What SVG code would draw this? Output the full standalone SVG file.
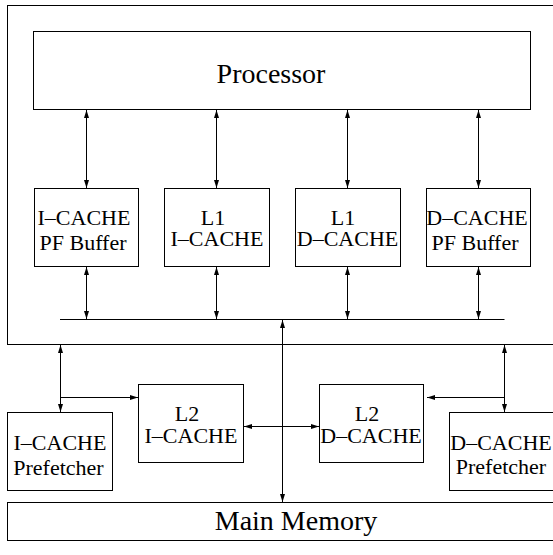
<svg xmlns="http://www.w3.org/2000/svg" width="553" height="555" viewBox="0 0 553 555">
  <style>
    .box { fill: #fff; stroke: #000; stroke-width: 1; }
    .frame { fill: none; stroke: #000; stroke-width: 1; }
    .wire { fill: none; stroke: #000; stroke-width: 1; }
    .lbl { font-family: "Liberation Serif", "Times New Roman", serif; font-size: 22px; fill: #000; text-anchor: middle; }
    .big { font-family: "Liberation Serif", "Times New Roman", serif; font-size: 28px; fill: #000; text-anchor: middle; }
  </style>
  <defs>
    <marker id="head" viewBox="0 0 8 5" refX="8" refY="2.5" markerWidth="8" markerHeight="5" markerUnits="userSpaceOnUse" orient="auto-start-reverse">
      <path d="M0,0 L8,2.5 L0,5 z" fill="#000"/>
    </marker>
  </defs>

  <rect width="553" height="555" fill="#fff"/>

  <!-- chip boundary (open to the right) -->
  <g id="chip">
    <rect class="frame" x="7.5" y="5.5" width="560" height="339"/>
  </g>

  <g id="processor">
    <rect class="box" x="33.5" y="31.5" width="497" height="78"/>
    <text class="big" x="271" y="83">Processor</text>
  </g>

  <g id="icache-pf-buffer">
    <rect class="box" x="34.5" y="188.5" width="104" height="78"/>
    <text class="lbl" x="84" y="224.5">I–CACHE</text>
    <text class="lbl" x="83" y="250">PF Buffer</text>
  </g>

  <g id="l1-icache">
    <rect class="box" x="164.5" y="188.5" width="105" height="78"/>
    <text class="lbl" x="213" y="225">L1</text>
    <text class="lbl" x="217" y="246">I–CACHE</text>
  </g>

  <g id="l1-dcache">
    <rect class="box" x="295.5" y="188.5" width="105" height="78"/>
    <text class="lbl" x="343" y="225">L1</text>
    <text class="lbl" x="347.5" y="246">D–CACHE</text>
  </g>

  <g id="dcache-pf-buffer">
    <rect class="box" x="426.5" y="188.5" width="104" height="78"/>
    <text class="lbl" x="477" y="224.5">D–CACHE</text>
    <text class="lbl" x="475" y="250">PF Buffer</text>
  </g>

  <g id="l2-icache">
    <rect class="box" x="138.5" y="384.5" width="105" height="78"/>
    <text class="lbl" x="187" y="421">L2</text>
    <text class="lbl" x="191" y="443">I–CACHE</text>
  </g>

  <g id="l2-dcache">
    <rect class="box" x="319.5" y="384.5" width="104" height="78"/>
    <text class="lbl" x="367" y="421">L2</text>
    <text class="lbl" x="371" y="442.5">D–CACHE</text>
  </g>

  <g id="icache-prefetcher">
    <rect class="box" x="7.5" y="412.5" width="105" height="78"/>
    <text class="lbl" x="60" y="450">I–CACHE</text>
    <text class="lbl" x="58.5" y="474.5">Prefetcher</text>
  </g>

  <g id="dcache-prefetcher">
    <rect class="box" x="449.5" y="412.5" width="110" height="78"/>
    <text class="lbl" x="501" y="450">D–CACHE</text>
    <text class="lbl" x="501" y="474">Prefetcher</text>
  </g>

  <g id="main-memory">
    <rect class="box" x="7.5" y="502.5" width="560" height="38"/>
    <text class="big" x="296" y="530">Main Memory</text>
  </g>

  <g id="connectors">
    <!-- processor to first-level buffers and caches -->
    <line class="wire" x1="86.5" y1="110" x2="86.5" y2="188" marker-start="url(#head)" marker-end="url(#head)"/>
    <line class="wire" x1="216.5" y1="110" x2="216.5" y2="188" marker-start="url(#head)" marker-end="url(#head)"/>
    <line class="wire" x1="347.5" y1="110" x2="347.5" y2="188" marker-start="url(#head)" marker-end="url(#head)"/>
    <line class="wire" x1="478.5" y1="110" x2="478.5" y2="188" marker-start="url(#head)" marker-end="url(#head)"/>

    <!-- first-level units to on-chip bus -->
    <line class="wire" x1="86.5" y1="267" x2="86.5" y2="319" marker-start="url(#head)" marker-end="url(#head)"/>
    <line class="wire" x1="216.5" y1="267" x2="216.5" y2="319" marker-start="url(#head)" marker-end="url(#head)"/>
    <line class="wire" x1="347.5" y1="267" x2="347.5" y2="319" marker-start="url(#head)" marker-end="url(#head)"/>
    <line class="wire" x1="478.5" y1="267" x2="478.5" y2="319" marker-start="url(#head)" marker-end="url(#head)"/>

    <!-- on-chip bus -->
    <line class="wire" x1="60" y1="319.5" x2="504.5" y2="319.5"/>

    <!-- bus to main memory -->
    <line class="wire" x1="282.5" y1="320" x2="282.5" y2="502" marker-start="url(#head)" marker-end="url(#head)"/>

    <!-- instruction side -->
    <line class="wire" x1="60.5" y1="345" x2="60.5" y2="412" marker-start="url(#head)" marker-end="url(#head)"/>
    <line class="wire" x1="60.5" y1="397.5" x2="138" y2="397.5" marker-end="url(#head)"/>

    <!-- data side -->
    <line class="wire" x1="504.5" y1="345" x2="504.5" y2="412" marker-start="url(#head)" marker-end="url(#head)"/>
    <line class="wire" x1="504.5" y1="397.5" x2="427" y2="397.5" marker-end="url(#head)"/>

    <!-- between L2 caches -->
    <line class="wire" x1="244" y1="426.5" x2="319" y2="426.5" marker-start="url(#head)" marker-end="url(#head)"/>
  </g>
</svg>
